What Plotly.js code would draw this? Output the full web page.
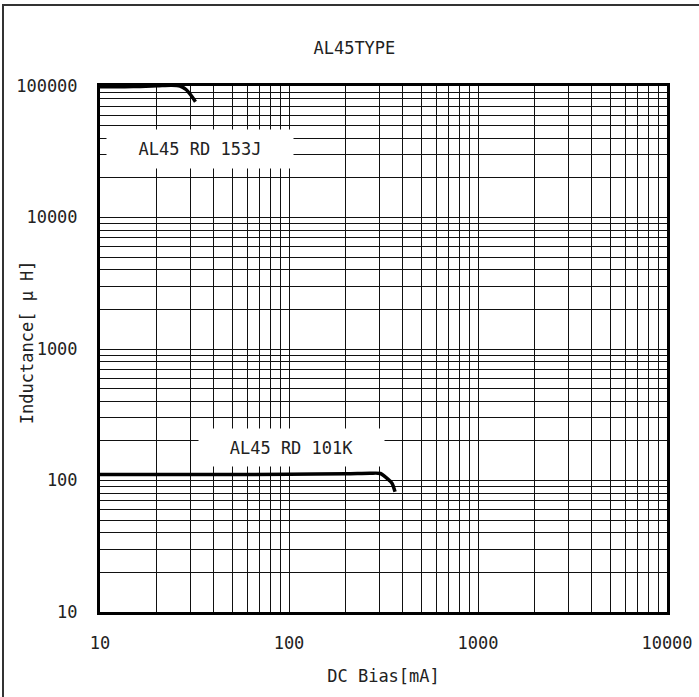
<!DOCTYPE html>
<html>
<head>
<meta charset="utf-8">
<script src="https://cdn.plot.ly/plotly-3.0.1.min.js"></script>
<style>
html,body{margin:0;padding:0;background:#fff;overflow:hidden;width:699px;height:697px;}
#wrap{position:relative;width:699px;height:697px;overflow:hidden;}
#chart{position:absolute;left:0;top:0;width:699px;height:697px;}
#frame{position:absolute;left:2px;top:4px;width:720px;height:720px;border-left:2px solid #333;border-top:2px solid #333;pointer-events:none;}
</style>
</head>
<body>
<div id="wrap"><div id="chart"></div><div id="frame"></div></div>
<script>
// ---- data ----
var chartTitle = "AL45TYPE";
var xTitle = "DC Bias[mA]";
var yTitle = "Inductance[ μ H]";

var series153J_name = "AL45 RD 153J";
var series153J_x = [10, 15, 20, 24, 26.5, 28.5, 30.5, 32];
var series153J_y = [98500, 99000, 100500, 101500, 100000, 94000, 84000, 76000];

var series101K_name = "AL45 RD 101K";
var series101K_x = [10, 50, 100, 200, 268, 305, 322, 340, 351, 364];
var series101K_y = [111, 111, 111.5, 112.5, 113.6, 113, 107, 100, 95, 82];

var xMajor = [10, 100, 1000, 10000];
var yMajor = [10, 100, 1000, 10000, 100000];
var minorDigits = [1, 2, 3, 4, 5, 6, 7, 8, 9];

function logTicks(majors) {
  var vals = [], text = [];
  for (var i = 0; i < majors.length; i++) {
    var m = majors[i];
    if (i < majors.length - 1) {
      for (var d = 0; d < minorDigits.length; d++) {
        vals.push(m * minorDigits[d]);
        text.push(d === 0 ? String(m) : "");
      }
    } else {
      vals.push(m); text.push(String(m));
    }
  }
  return {vals: vals, text: text};
}
var xt = logTicks(xMajor), yt = logTicks(yMajor);

var FONT = "DejaVu Sans Mono, Liberation Mono, monospace";

var traces = [
  {x: series153J_x, y: series153J_y, name: series153J_name, mode: "lines",
   line: {color: "#000", width: 3.5, shape: "spline", smoothing: 0.8}},
  {x: series101K_x, y: series101K_y, name: series101K_name, mode: "lines",
   line: {color: "#000", width: 3.5, shape: "spline", smoothing: 0.8}}
];

var axisCommon = {
  type: "log", showline: true, mirror: true, linecolor: "#000", linewidth: 3,
  showgrid: true, gridcolor: "#111", gridwidth: 1, zeroline: false,
  ticks: "", tickmode: "array", tickfont: {family: FONT, size: 17, color: "#222"}
};

var layout = {
  width: 699, height: 697,
  margin: {l: 100, r: 32, t: 86, b: 85, pad: 0},
  paper_bgcolor: "#fff", plot_bgcolor: "#fff",
  showlegend: false,
  font: {family: FONT, color: "#222"},
  title: {text: chartTitle, font: {family: FONT, size: 17, color: "#222"},
          x: 0.507, xref: "container", xanchor: "center", y: 0.931, yref: "container", yanchor: "middle"},
  xaxis: Object.assign({}, axisCommon, {
    range: [1, 4], tickvals: xt.vals, ticktext: xt.text, ticklabelstandoff: 14,
    title: {text: xTitle, font: {family: FONT, size: 17, color: "#222"}, standoff: 18}
  }),
  yaxis: Object.assign({}, axisCommon, {
    range: [1, 5], tickvals: yt.vals, ticktext: yt.text, ticklabelstandoff: 16
  }),
  annotations: [
    {text: yTitle, xref: "paper", yref: "paper", x: -0.1287, y: 0.513, textangle: -90,
     xanchor: "center", yanchor: "middle", showarrow: false,
     font: {family: FONT, size: 17, color: "#222"}},
    {text: series153J_name, xref: "paper", yref: "paper", x: 0.1764, y: 0.8802,
     xanchor: "center", yanchor: "middle", showarrow: false, bgcolor: "#fff",
     width: 184, height: 36, font: {family: FONT, size: 17, color: "#222"}},
    {text: series101K_name, xref: "paper", yref: "paper", x: 0.3377, y: 0.3127,
     xanchor: "center", yanchor: "middle", showarrow: false, bgcolor: "#fff",
     width: 183, height: 35, font: {family: FONT, size: 17, color: "#222"}}
  ]
};

Plotly.newPlot("chart", traces, layout, {staticPlot: true, displayModeBar: false});
</script>
</body>
</html>
